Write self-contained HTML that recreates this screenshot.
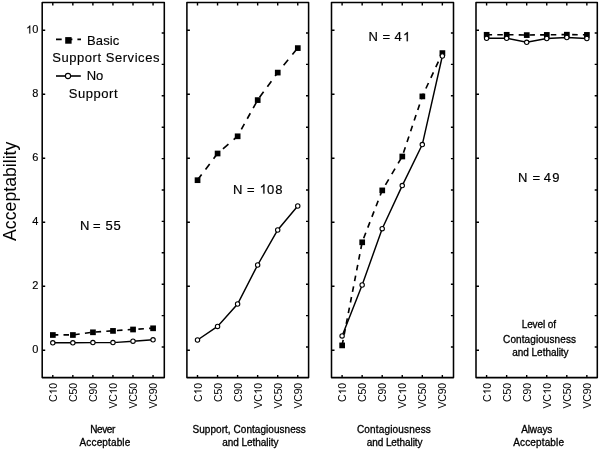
<!DOCTYPE html><html><head><meta charset="utf-8"><style>html,body{margin:0;padding:0;background:#fff;}svg{display:block;filter:grayscale(1);}text{font-family:"Liberation Sans",sans-serif;fill:#000;}</style></head><body>
<svg width="600" height="450" viewBox="0 0 600 450">
<rect width="600" height="450" fill="#fff"/>
<rect x="42.2" y="2.4" width="122.10" height="375.20" stroke="#000" stroke-width="1.55" fill="none" stroke-linejoin="round"/>
<path d="M52.80 2.4V5.4M52.80 377.6V375.0M72.85 2.4V5.4M72.85 377.6V375.0M92.90 2.4V5.4M92.90 377.6V375.0M112.95 2.4V5.4M112.95 377.6V375.0M133.00 2.4V5.4M133.00 377.6V375.0M153.05 2.4V5.4M153.05 377.6V375.0M42.2 350.30H45.2M42.2 286.30H45.2M42.2 222.30H45.2M42.2 158.30H45.2M42.2 94.30H45.2M42.2 30.30H45.2M164.3 33.00H161.70M164.3 64.40H161.70M164.3 95.80H161.70M164.3 127.20H161.70M164.3 158.60H161.70M164.3 190.00H161.70M164.3 221.40H161.70M164.3 252.80H161.70M164.3 284.20H161.70M164.3 315.60H161.70M164.3 347.00H161.70" stroke="#000" stroke-width="1.4"/>
<polyline points="52.80,342.8 72.85,342.8 92.90,342.6 112.95,342.6 133.00,341.2 153.05,339.8" stroke="#000" stroke-width="1.45" fill="none"/>
<path d="M52.80 334.90 L58.30 334.90M63.50 334.90 L69.00 334.90M74.20 334.72 L79.70 333.98M84.90 333.28 L90.40 332.54M95.60 332.01 L101.10 331.63M106.30 331.26 L111.80 330.88M117.00 330.52 L122.50 330.13M127.70 329.77 L133.00 329.40 L133.20 329.39M138.40 329.08 L143.90 328.75M149.10 328.44 L153.05 328.20" stroke="#000" stroke-width="1.65" fill="none"/>
<rect x="50.00" y="332.15" width="5.7" height="5.7" fill="#000"/>
<rect x="70.05" y="332.15" width="5.7" height="5.7" fill="#000"/>
<rect x="90.10" y="329.45" width="5.7" height="5.7" fill="#000"/>
<rect x="110.15" y="328.05" width="5.7" height="5.7" fill="#000"/>
<rect x="130.20" y="326.65" width="5.7" height="5.7" fill="#000"/>
<rect x="150.25" y="325.45" width="5.7" height="5.7" fill="#000"/>
<circle cx="52.80" cy="342.8" r="2.2" fill="#fff" stroke="#000" stroke-width="1.1"/>
<circle cx="72.85" cy="342.8" r="2.2" fill="#fff" stroke="#000" stroke-width="1.1"/>
<circle cx="92.90" cy="342.6" r="2.2" fill="#fff" stroke="#000" stroke-width="1.1"/>
<circle cx="112.95" cy="342.6" r="2.2" fill="#fff" stroke="#000" stroke-width="1.1"/>
<circle cx="133.00" cy="341.2" r="2.2" fill="#fff" stroke="#000" stroke-width="1.1"/>
<circle cx="153.05" cy="339.8" r="2.2" fill="#fff" stroke="#000" stroke-width="1.1"/>
<g transform="translate(56.80,382.8) rotate(-90)"><text x="-19.26 -5.84" y="0.00" font-size="10.5" >C0</text><path transform="translate(-11.68,0.00) scale(0.005127,-0.005127)" d="M583 0L763 0L763 1466L646 1466Q600 1370 487 1276Q374 1175 223 1104L223 930Q307 961 413 1023Q518 1085 583 1147Z"/></g>
<g transform="translate(76.85,382.8) rotate(-90)"><text x="-19.26 -11.68 -5.84" y="0.00" font-size="10.5" >C50</text></g>
<g transform="translate(96.90,382.8) rotate(-90)"><text x="-19.26 -11.68 -5.84" y="0.00" font-size="10.5" >C90</text></g>
<g transform="translate(116.95,382.8) rotate(-90)"><text x="-25.67 -18.86 -5.84" y="0.00" font-size="10.5" >VC0</text><path transform="translate(-11.48,0.00) scale(0.005127,-0.005127)" d="M583 0L763 0L763 1466L646 1466Q600 1370 487 1276Q374 1175 223 1104L223 930Q307 961 413 1023Q518 1085 583 1147Z"/></g>
<g transform="translate(137.00,382.8) rotate(-90)"><text x="-25.67 -18.86 -11.48 -5.84" y="0.00" font-size="10.5" >VC50</text></g>
<g transform="translate(157.05,382.8) rotate(-90)"><text x="-25.67 -18.86 -11.48 -5.84" y="0.00" font-size="10.5" >VC90</text></g>
<rect x="186.9" y="2.4" width="121.70" height="375.20" stroke="#000" stroke-width="1.55" fill="none" stroke-linejoin="round"/>
<path d="M197.50 2.4V5.4M197.50 377.6V375.0M217.55 2.4V5.4M217.55 377.6V375.0M237.60 2.4V5.4M237.60 377.6V375.0M257.65 2.4V5.4M257.65 377.6V375.0M277.70 2.4V5.4M277.70 377.6V375.0M297.75 2.4V5.4M297.75 377.6V375.0M186.9 350.30H189.9M186.9 286.30H189.9M186.9 222.30H189.9M186.9 158.30H189.9M186.9 94.30H189.9M186.9 30.30H189.9M308.6 33.00H306.00M308.6 64.40H306.00M308.6 95.80H306.00M308.6 127.20H306.00M308.6 158.60H306.00M308.6 190.00H306.00M308.6 221.40H306.00M308.6 252.80H306.00M308.6 284.20H306.00M308.6 315.60H306.00M308.6 347.00H306.00" stroke="#000" stroke-width="1.4"/>
<polyline points="197.50,340.0 217.55,326.4 237.60,304.0 257.65,265.0 277.70,230.0 297.75,206.0" stroke="#000" stroke-width="1.45" fill="none"/>
<path d="M197.50 180.10 L201.63 174.60M205.54 169.40 L209.67 163.90M213.57 158.70 L217.55 153.40 L217.75 153.23M222.95 148.77 L228.45 144.05M233.65 139.59 L237.60 136.20 L238.46 134.65M241.34 129.45 L244.38 123.95M247.26 118.75 L250.31 113.25M253.19 108.05 L256.24 102.55M259.58 97.35 L263.59 91.85M267.38 86.65 L271.39 81.15M275.18 75.95 L277.70 72.50 L279.38 70.45M283.63 65.25 L288.13 59.75M292.39 54.55 L296.89 49.05" stroke="#000" stroke-width="1.65" fill="none"/>
<rect x="194.70" y="177.35" width="5.7" height="5.7" fill="#000"/>
<rect x="214.75" y="150.65" width="5.7" height="5.7" fill="#000"/>
<rect x="234.80" y="133.45" width="5.7" height="5.7" fill="#000"/>
<rect x="254.85" y="97.25" width="5.7" height="5.7" fill="#000"/>
<rect x="274.90" y="69.75" width="5.7" height="5.7" fill="#000"/>
<rect x="294.95" y="45.25" width="5.7" height="5.7" fill="#000"/>
<circle cx="197.50" cy="340.0" r="2.2" fill="#fff" stroke="#000" stroke-width="1.1"/>
<circle cx="217.55" cy="326.4" r="2.2" fill="#fff" stroke="#000" stroke-width="1.1"/>
<circle cx="237.60" cy="304.0" r="2.2" fill="#fff" stroke="#000" stroke-width="1.1"/>
<circle cx="257.65" cy="265.0" r="2.2" fill="#fff" stroke="#000" stroke-width="1.1"/>
<circle cx="277.70" cy="230.0" r="2.2" fill="#fff" stroke="#000" stroke-width="1.1"/>
<circle cx="297.75" cy="206.0" r="2.2" fill="#fff" stroke="#000" stroke-width="1.1"/>
<g transform="translate(201.50,382.8) rotate(-90)"><text x="-19.26 -5.84" y="0.00" font-size="10.5" >C0</text><path transform="translate(-11.68,0.00) scale(0.005127,-0.005127)" d="M583 0L763 0L763 1466L646 1466Q600 1370 487 1276Q374 1175 223 1104L223 930Q307 961 413 1023Q518 1085 583 1147Z"/></g>
<g transform="translate(221.55,382.8) rotate(-90)"><text x="-19.26 -11.68 -5.84" y="0.00" font-size="10.5" >C50</text></g>
<g transform="translate(241.60,382.8) rotate(-90)"><text x="-19.26 -11.68 -5.84" y="0.00" font-size="10.5" >C90</text></g>
<g transform="translate(261.65,382.8) rotate(-90)"><text x="-25.67 -18.86 -5.84" y="0.00" font-size="10.5" >VC0</text><path transform="translate(-11.48,0.00) scale(0.005127,-0.005127)" d="M583 0L763 0L763 1466L646 1466Q600 1370 487 1276Q374 1175 223 1104L223 930Q307 961 413 1023Q518 1085 583 1147Z"/></g>
<g transform="translate(281.70,382.8) rotate(-90)"><text x="-25.67 -18.86 -11.48 -5.84" y="0.00" font-size="10.5" >VC50</text></g>
<g transform="translate(301.75,382.8) rotate(-90)"><text x="-25.67 -18.86 -11.48 -5.84" y="0.00" font-size="10.5" >VC90</text></g>
<rect x="331.5" y="2.4" width="122.00" height="375.20" stroke="#000" stroke-width="1.55" fill="none" stroke-linejoin="round"/>
<path d="M342.10 2.4V5.4M342.10 377.6V375.0M362.15 2.4V5.4M362.15 377.6V375.0M382.20 2.4V5.4M382.20 377.6V375.0M402.25 2.4V5.4M402.25 377.6V375.0M422.30 2.4V5.4M422.30 377.6V375.0M442.35 2.4V5.4M442.35 377.6V375.0M331.5 350.30H334.5M331.5 286.30H334.5M331.5 222.30H334.5M331.5 158.30H334.5M331.5 94.30H334.5M331.5 30.30H334.5M453.5 33.00H450.90M453.5 64.40H450.90M453.5 95.80H450.90M453.5 127.20H450.90M453.5 158.60H450.90M453.5 190.00H450.90M453.5 221.40H450.90M453.5 252.80H450.90M453.5 284.20H450.90M453.5 315.60H450.90M453.5 347.00H450.90" stroke="#000" stroke-width="1.4"/>
<polyline points="342.10,335.9 362.15,285.0 382.20,228.7 402.25,185.6 422.30,144.6 442.35,56.0" stroke="#000" stroke-width="1.45" fill="none"/>
<path d="M342.10 345.30 L343.17 339.80M344.18 334.60 L345.25 329.10M346.26 323.90 L347.33 318.40M348.34 313.20 L349.41 307.70M350.42 302.50 L351.49 297.00M352.50 291.80 L353.57 286.30M354.59 281.10 L355.65 275.60M356.67 270.40 L357.74 264.90M358.75 259.70 L359.82 254.20M360.83 249.00 L361.90 243.50M363.66 238.30 L365.78 232.80M367.79 227.60 L369.92 222.10M371.92 216.90 L374.05 211.40M376.06 206.20 L378.18 200.70M380.19 195.50 L382.20 190.30 L382.38 190.00M385.45 184.80 L388.71 179.30M391.78 174.10 L395.03 168.60M398.11 163.40 L401.36 157.90M403.48 152.70 L405.32 147.20M407.05 142.00 L408.89 136.50M410.62 131.30 L412.46 125.80M414.19 120.60 L416.03 115.10M417.76 109.90 L419.60 104.40M421.33 99.20 L422.30 96.30 L423.50 93.70M425.91 88.50 L428.46 83.00M430.87 77.80 L433.41 72.30M435.82 67.10 L438.37 61.60M440.78 56.40 L442.35 53.00" stroke="#000" stroke-width="1.65" fill="none"/>
<rect x="339.30" y="342.55" width="5.7" height="5.7" fill="#000"/>
<rect x="359.35" y="239.45" width="5.7" height="5.7" fill="#000"/>
<rect x="379.40" y="187.55" width="5.7" height="5.7" fill="#000"/>
<rect x="399.45" y="153.65" width="5.7" height="5.7" fill="#000"/>
<rect x="419.50" y="93.55" width="5.7" height="5.7" fill="#000"/>
<rect x="439.55" y="50.25" width="5.7" height="5.7" fill="#000"/>
<circle cx="342.10" cy="335.9" r="2.2" fill="#fff" stroke="#000" stroke-width="1.1"/>
<circle cx="362.15" cy="285.0" r="2.2" fill="#fff" stroke="#000" stroke-width="1.1"/>
<circle cx="382.20" cy="228.7" r="2.2" fill="#fff" stroke="#000" stroke-width="1.1"/>
<circle cx="402.25" cy="185.6" r="2.2" fill="#fff" stroke="#000" stroke-width="1.1"/>
<circle cx="422.30" cy="144.6" r="2.2" fill="#fff" stroke="#000" stroke-width="1.1"/>
<circle cx="442.35" cy="56.0" r="2.2" fill="#fff" stroke="#000" stroke-width="1.1"/>
<g transform="translate(346.10,382.8) rotate(-90)"><text x="-19.26 -5.84" y="0.00" font-size="10.5" >C0</text><path transform="translate(-11.68,0.00) scale(0.005127,-0.005127)" d="M583 0L763 0L763 1466L646 1466Q600 1370 487 1276Q374 1175 223 1104L223 930Q307 961 413 1023Q518 1085 583 1147Z"/></g>
<g transform="translate(366.15,382.8) rotate(-90)"><text x="-19.26 -11.68 -5.84" y="0.00" font-size="10.5" >C50</text></g>
<g transform="translate(386.20,382.8) rotate(-90)"><text x="-19.26 -11.68 -5.84" y="0.00" font-size="10.5" >C90</text></g>
<g transform="translate(406.25,382.8) rotate(-90)"><text x="-25.67 -18.86 -5.84" y="0.00" font-size="10.5" >VC0</text><path transform="translate(-11.48,0.00) scale(0.005127,-0.005127)" d="M583 0L763 0L763 1466L646 1466Q600 1370 487 1276Q374 1175 223 1104L223 930Q307 961 413 1023Q518 1085 583 1147Z"/></g>
<g transform="translate(426.30,382.8) rotate(-90)"><text x="-25.67 -18.86 -11.48 -5.84" y="0.00" font-size="10.5" >VC50</text></g>
<g transform="translate(446.35,382.8) rotate(-90)"><text x="-25.67 -18.86 -11.48 -5.84" y="0.00" font-size="10.5" >VC90</text></g>
<rect x="476.0" y="2.4" width="121.30" height="375.20" stroke="#000" stroke-width="1.55" fill="none" stroke-linejoin="round"/>
<path d="M486.60 2.4V5.4M486.60 377.6V375.0M506.65 2.4V5.4M506.65 377.6V375.0M526.70 2.4V5.4M526.70 377.6V375.0M546.75 2.4V5.4M546.75 377.6V375.0M566.80 2.4V5.4M566.80 377.6V375.0M586.85 2.4V5.4M586.85 377.6V375.0M476.0 350.30H479.0M476.0 286.30H479.0M476.0 222.30H479.0M476.0 158.30H479.0M476.0 94.30H479.0M476.0 30.30H479.0M597.3 33.00H594.70M597.3 64.40H594.70M597.3 95.80H594.70M597.3 127.20H594.70M597.3 158.60H594.70M597.3 190.00H594.70M597.3 221.40H594.70M597.3 252.80H594.70M597.3 284.20H594.70M597.3 315.60H594.70M597.3 347.00H594.70" stroke="#000" stroke-width="1.4"/>
<polyline points="486.60,38.3 506.65,38.3 526.70,42.3 546.75,38.5 566.80,37.5 586.85,38.5" stroke="#000" stroke-width="1.45" fill="none"/>
<path d="M486.60 34.70 L492.10 34.70M497.30 34.70 L502.80 34.70M508.00 34.72 L513.50 34.80M518.70 34.88 L524.20 34.96M529.40 34.97 L534.90 34.92M540.10 34.87 L545.60 34.81M550.80 34.76 L556.30 34.70M561.50 34.65 L566.80 34.60 L567.00 34.60M572.20 34.65 L577.70 34.71M582.90 34.76 L586.85 34.80" stroke="#000" stroke-width="1.65" fill="none"/>
<rect x="483.80" y="31.95" width="5.7" height="5.7" fill="#000"/>
<rect x="503.85" y="31.95" width="5.7" height="5.7" fill="#000"/>
<rect x="523.90" y="32.25" width="5.7" height="5.7" fill="#000"/>
<rect x="543.95" y="32.05" width="5.7" height="5.7" fill="#000"/>
<rect x="564.00" y="31.85" width="5.7" height="5.7" fill="#000"/>
<rect x="584.05" y="32.05" width="5.7" height="5.7" fill="#000"/>
<circle cx="486.60" cy="38.3" r="2.2" fill="#fff" stroke="#000" stroke-width="1.1"/>
<circle cx="506.65" cy="38.3" r="2.2" fill="#fff" stroke="#000" stroke-width="1.1"/>
<circle cx="526.70" cy="42.3" r="2.2" fill="#fff" stroke="#000" stroke-width="1.1"/>
<circle cx="546.75" cy="38.5" r="2.2" fill="#fff" stroke="#000" stroke-width="1.1"/>
<circle cx="566.80" cy="37.5" r="2.2" fill="#fff" stroke="#000" stroke-width="1.1"/>
<circle cx="586.85" cy="38.5" r="2.2" fill="#fff" stroke="#000" stroke-width="1.1"/>
<g transform="translate(490.60,382.8) rotate(-90)"><text x="-19.26 -5.84" y="0.00" font-size="10.5" >C0</text><path transform="translate(-11.68,0.00) scale(0.005127,-0.005127)" d="M583 0L763 0L763 1466L646 1466Q600 1370 487 1276Q374 1175 223 1104L223 930Q307 961 413 1023Q518 1085 583 1147Z"/></g>
<g transform="translate(510.65,382.8) rotate(-90)"><text x="-19.26 -11.68 -5.84" y="0.00" font-size="10.5" >C50</text></g>
<g transform="translate(530.70,382.8) rotate(-90)"><text x="-19.26 -11.68 -5.84" y="0.00" font-size="10.5" >C90</text></g>
<g transform="translate(550.75,382.8) rotate(-90)"><text x="-25.67 -18.86 -5.84" y="0.00" font-size="10.5" >VC0</text><path transform="translate(-11.48,0.00) scale(0.005127,-0.005127)" d="M583 0L763 0L763 1466L646 1466Q600 1370 487 1276Q374 1175 223 1104L223 930Q307 961 413 1023Q518 1085 583 1147Z"/></g>
<g transform="translate(570.80,382.8) rotate(-90)"><text x="-25.67 -18.86 -11.48 -5.84" y="0.00" font-size="10.5" >VC50</text></g>
<g transform="translate(590.85,382.8) rotate(-90)"><text x="-25.67 -18.86 -11.48 -5.84" y="0.00" font-size="10.5" >VC90</text></g>
<text x="32.28" y="353.40" font-size="11" stroke="#000" stroke-width="0.15">0</text>
<text x="32.28" y="289.40" font-size="11" stroke="#000" stroke-width="0.15">2</text>
<text x="32.28" y="225.40" font-size="11" stroke="#000" stroke-width="0.15">4</text>
<text x="32.28" y="161.40" font-size="11" stroke="#000" stroke-width="0.15">6</text>
<text x="32.28" y="97.40" font-size="11" stroke="#000" stroke-width="0.15">8</text>
<text x="32.28" y="33.40" font-size="11" stroke="#000" stroke-width="0.15">0</text><path transform="translate(26.16,33.40) scale(0.005371,-0.005371)" d="M583 0L763 0L763 1466L646 1466Q600 1370 487 1276Q374 1175 223 1104L223 930Q307 961 413 1023Q518 1085 583 1147Z" stroke="#000" stroke-width="27.9"/>
<text transform="translate(15.5,191.3) rotate(-90)" text-anchor="middle" font-size="17.7" letter-spacing="0">Acceptability</text>
<path d="M56 39.4H81" stroke="#000" stroke-width="1.8" stroke-dasharray="5.7 5"/>
<rect x="65.2" y="37.1" width="6.4" height="6.6" fill="#000"/>
<path d="M56 76H80.8" stroke="#000" stroke-width="1.6"/>
<circle cx="68" cy="76" r="2.6" fill="#fff" stroke="#000" stroke-width="1.1"/>
<text x="87" y="45" font-size="13" stroke="#000" stroke-width="0.15" letter-spacing="0.13">Basic</text>
<text x="52.2" y="61.7" font-size="13" stroke="#000" stroke-width="0.15" letter-spacing="0.55">Support Services</text>
<text x="86.7" y="79.6" font-size="13" stroke="#000" stroke-width="0.15" letter-spacing="-0.2">No</text>
<text x="68.7" y="97.8" font-size="13" stroke="#000" stroke-width="0.15" letter-spacing="0.55">Support</text>
<text x="80.00 93.10 105.50 113.50" y="230.30" font-size="13" stroke="#000" stroke-width="0.2">N=55</text>
<text x="233.00 247.10 267.10 275.20" y="193.60" font-size="13" stroke="#000" stroke-width="0.2">N=08</text><path transform="translate(259.60,193.60) scale(0.006348,-0.006348)" d="M583 0L763 0L763 1466L646 1466Q600 1370 487 1276Q374 1175 223 1104L223 930Q307 961 413 1023Q518 1085 583 1147Z" stroke="#000" stroke-width="31.5"/>
<text x="368.50 382.40 394.40" y="41.20" font-size="13" stroke="#000" stroke-width="0.2">N=4</text><path transform="translate(403.00,41.20) scale(0.006348,-0.006348)" d="M583 0L763 0L763 1466L646 1466Q600 1370 487 1276Q374 1175 223 1104L223 930Q307 961 413 1023Q518 1085 583 1147Z" stroke="#000" stroke-width="31.5"/>
<text x="518.10 532.40 543.80 552.20" y="181.80" font-size="13" stroke="#000" stroke-width="0.2">N=49</text>
<text x="538.8" y="328.3" text-anchor="middle" font-size="10" letter-spacing="-0.1" stroke="#000" stroke-width="0.3">Level of</text>
<text x="539.6" y="342.5" text-anchor="middle" font-size="10" letter-spacing="0.09" stroke="#000" stroke-width="0.3">Contagiousness</text>
<text x="540.4" y="355.8" text-anchor="middle" font-size="10" letter-spacing="-0.03" stroke="#000" stroke-width="0.3">and Lethality</text>
<text x="102.5" y="432.6" text-anchor="middle" font-size="10" letter-spacing="-0.4" stroke="#000" stroke-width="0.3">Never</text>
<text x="105" y="446" text-anchor="middle" font-size="10" letter-spacing="0.14" stroke="#000" stroke-width="0.3">Acceptable</text>
<text x="249.2" y="432.8" text-anchor="middle" font-size="10" letter-spacing="0.05" stroke="#000" stroke-width="0.3">Support, Contagiousness</text>
<text x="250.3" y="445.8" text-anchor="middle" font-size="10" letter-spacing="-0.03" stroke="#000" stroke-width="0.3">and Lethality</text>
<text x="394" y="432.8" text-anchor="middle" font-size="10" letter-spacing="0.17" stroke="#000" stroke-width="0.3">Contagiousness</text>
<text x="394.6" y="445.8" text-anchor="middle" font-size="10" letter-spacing="-0.08" stroke="#000" stroke-width="0.3">and Lethality</text>
<text x="536.7" y="432.6" text-anchor="middle" font-size="10" letter-spacing="-0.1" stroke="#000" stroke-width="0.3">Always</text>
<text x="538.7" y="446" text-anchor="middle" font-size="10" letter-spacing="0.13" stroke="#000" stroke-width="0.3">Acceptable</text>
</svg></body></html>
